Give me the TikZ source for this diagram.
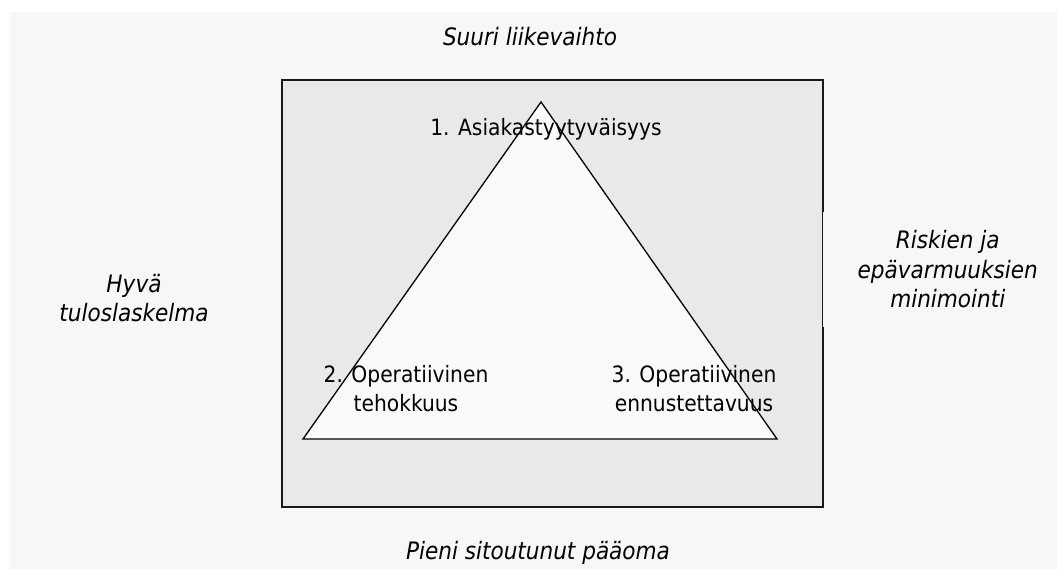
\documentclass[tikz,border=0pt]{standalone}
\usepackage{fontspec}
\setmainfont{DejaVu Sans Condensed}
\begin{document}
\begin{tikzpicture}[x=1pt,y=-1pt,
  every node/.style={inner sep=0pt, outer sep=0pt},
  field/.style={draw=black!90, line width=2pt, fill=gray!17},
  pyramid/.style={draw=black, line width=1.3pt, fill=pagebg!60!white, line join=miter},
  goal/.style={font=\fontsize{24}{29.5}\selectfont\itshape, align=center, text=black},
  corner/.style={font=\fontsize{22.5}{29}\selectfont, align=center, text=black}]
\definecolor{pagebg}{HTML}{F7F7F7}
\useasboundingbox (0,0) rectangle (1057,569);
\fill[white] (0,0) rectangle (1057,569);
\fill[pagebg] (10,12) rectangle (1057,569);

% shaded field with the triangle of goals
\draw[field] (282,80) rectangle (822.5,507);
\coordinate (apex) at (541,102);
\coordinate (bl) at (303,439);
\coordinate (br) at (777,439);
\draw[pyramid] (apex) -- (bl) -- (br) -- cycle;

% corners of the triangle
\node[corner] (c1) at (546,129) {1. Asiakastyytyväisyys};
\node[corner] (c2) at (406,389) {2. Operatiivinen\\tehokkuus};
\node[corner] (c3) at (694,389) {3. Operatiivinen\\ennustettavuus};

% goals around the field
\node[goal] (top) at (530,37) {Suuri liikevaihto};
\node[goal] (left) at (134,298) {Hyvä\\tuloslaskelma};
\node[goal, fill=pagebg, minimum width=250pt, minimum height=115pt, anchor=west] (right) at (822.8,269.5) {Riskien ja\\epävarmuuksien\\minimointi};
\node[goal] (bottom) at (538,553) {Pieni sitoutunut pääoma};
\end{tikzpicture}
\end{document}
